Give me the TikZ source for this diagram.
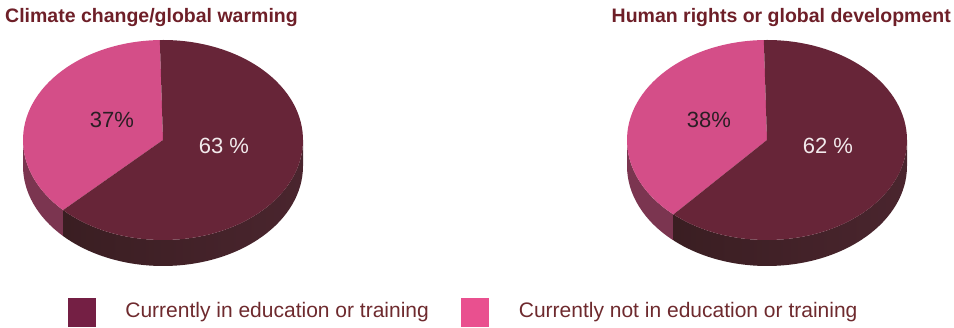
\documentclass[tikz,border=0pt]{standalone}
\usepackage{fontspec}
\setmainfont{Liberation Sans}
\usetikzlibrary{positioning}
\definecolor{piedark}{HTML}{672538}
\definecolor{piepink}{HTML}{D44E88}
\definecolor{sidepink}{HTML}{7B3550}
\definecolor{sideleft}{HTML}{3A1E22}
\definecolor{sideright}{HTML}{4A252E}
\definecolor{keydark}{HTML}{741F44}
\definecolor{keypink}{HTML}{E9508F}
\definecolor{titlered}{HTML}{6E1F28}
\definecolor{keytext}{HTML}{6E2A2E}
\definecolor{pctdark}{HTML}{2A1E24}
\definecolor{pctlight}{HTML}{F2EAEC}
\tikzset{
  pietitle/.style={text=titlered,inner sep=0,font=\bfseries\fontsize{19.5}{22}\selectfont},
  pct/.style={inner sep=0,font=\fontsize{22}{24}\selectfont},
  keybox/.style={minimum width=28pt,minimum height=29pt,inner sep=0},
  keylabel/.style={text=keytext,inner sep=0,font=\fontsize{21}{24}\selectfont}
}
\begin{document}
\begin{tikzpicture}[line join=round, x=1pt, y=1pt]
  \def\rx{140}\def\ry{100}\def\dep{26}\def\s{91.3}
  \useasboundingbox (0,0) rectangle (954,328);
  \foreach \cx/\a/\id/\px/\ptxt/\dtxt in {163/224.5/cc/-51/37\%/63 \%, 767/228.1/hr/-58/38\%/62 \%}{
    \begin{scope}[shift={(\cx,188)}]
      % side of the pie
      \fill[sidepink] (-\rx,0) arc[start angle=180,end angle=\a,x radius=\rx,y radius=\ry]
        -- ++(0,-\dep) arc[start angle=\a,end angle=180,x radius=\rx,y radius=\ry] -- cycle;
      \shade[left color=sideleft,right color=sideright] ({\rx*cos(\a)},{\ry*sin(\a)})
        arc[start angle=\a,end angle=360,x radius=\rx,y radius=\ry]
        -- ++(0,-\dep) arc[start angle=360,end angle=\a,x radius=\rx,y radius=\ry] -- cycle;
      % top of the pie
      \fill[piepink] (0,0) -- ({\rx*cos(\s)},{\ry*sin(\s)})
        arc[start angle=\s,end angle=\a,x radius=\rx,y radius=\ry] -- cycle;
      \fill[piedark] (0,0) -- ({\rx*cos(\a)},{\ry*sin(\a)})
        arc[start angle=\a,end angle=\s+360,x radius=\rx,y radius=\ry] -- cycle;
      \node[pct,text=pctdark] (\id p) at (\px,20) {\ptxt};
      \node[pct,text=pctlight] (\id d) at (61,-6) {\dtxt};
    \end{scope}
  }
  \node[pietitle,anchor=base west] (cctitle) at (5,305) {Climate change/global warming};
  \node[pietitle,anchor=base east] (hrtitle) at (951,305) {Human rights or global development};
  \node[keybox,fill=keydark] (keyin) at (82,15.5) {};
  \node[keylabel,right=29pt of keyin] (keyintext) {Currently in education or training};
  \node[keybox,fill=keypink] (keyout) at (474.5,15.5) {};
  \node[keylabel,right=30pt of keyout] (keyouttext) {Currently not in education or training};
\end{tikzpicture}
\end{document}
